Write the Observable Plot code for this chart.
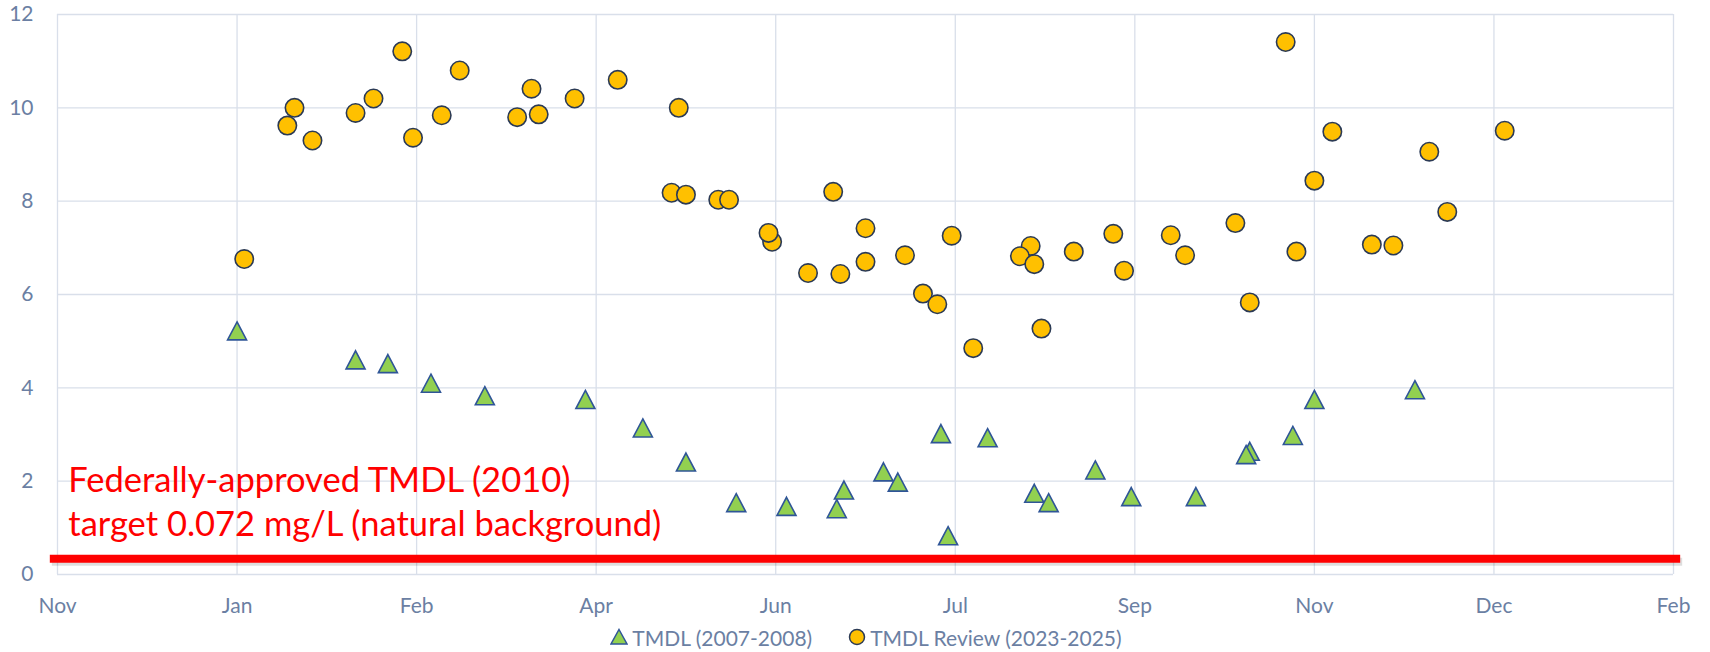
<!DOCTYPE html>
<html><head><meta charset="utf-8">
<script src="https://cdn.jsdelivr.net/npm/d3@7"></script>
<script src="https://cdn.jsdelivr.net/npm/@observablehq/plot@0.6"></script>
<style>
body{margin:0;background:#fff;font-family:Lato,sans-serif;}
#legend{display:flex;align-items:center;justify-content:center;height:30px;font-size:21px;color:#6b7fa3;padding-left:22px;}
#legend .item{display:flex;align-items:center;margin:0 18px;}
#legend svg{margin-right:4px;}
</style></head><body>
<div id="chart"></div>
<div id="legend"></div>
<script>
// x-axis ticks (50-day steps, as in the source) and their labels
const tickDates = ["1999-11-18","2000-01-07","2000-02-26","2000-04-16","2000-06-05","2000-07-25","2000-09-13","2000-11-02","2000-12-22","2001-02-10"];
const tickLabels = ["Nov","Jan","Feb","Apr","Jun","Jul","Sep","Nov","Dec","Feb"];
const yTicks = [0,2,4,6,8,10,12];

const seriesNames = ["TMDL (2007-2008)", "TMDL Review (2023-2025)"];

// TMDL (2007-2008)
const tmdlDates = ["01-07","02-09","02-18","03-01","03-16","04-13","04-29","05-11","05-25","06-08","06-22","06-24","07-05","07-09","07-21","07-23","08-03","08-16","08-20","09-02","09-12","09-30","10-15","10-14","10-27","11-02","11-30"];
const tmdlValues = [5.22,4.6,4.52,4.1,3.83,3.75,3.14,2.41,1.54,1.46,1.41,1.81,2.2,1.98,3.02,0.83,2.93,1.74,1.54,2.24,1.67,1.67,2.64,2.57,2.98,3.75,3.96];

// TMDL Review (2023-2025)
const reviewDates = ["01-09","01-21","01-23","01-28","02-09","02-14","02-22","02-25","03-04","03-09","03-25","03-29","03-31","04-10","04-22","05-07","05-09","05-11","05-20","05-23","06-04","06-03","06-14","06-21","06-23","06-30","06-30","07-11","07-16","07-20","07-24","07-30","08-15","08-12","08-16","08-18","08-27","09-07","09-10","09-23","09-27","10-11","10-15","10-25","10-28","11-02","11-07","11-18","11-24","12-04","12-09","12-25"];
const reviewValues = [6.76,9.62,10.0,9.30,9.89,10.2,11.21,9.36,9.84,10.8,9.80,10.41,9.86,10.2,10.6,8.18,10.0,8.14,8.03,8.03,7.13,7.32,6.46,8.2,6.44,7.42,6.70,6.84,6.02,5.79,7.26,4.85,7.04,6.82,6.65,5.27,6.92,7.3,6.51,7.27,6.84,7.53,5.83,11.41,6.92,8.44,9.49,7.07,7.05,9.06,7.77,9.51];

// annotation
const targetLevel = 0.34;
const targetSpan = ["1999-11-16","2001-02-12"];
const annotationAnchor = {date: "1999-11-21", value: 0.82};
const annotationLines = ["Federally-approved TMDL (2010)", "target 0.072 mg/L (natural background)"];

const parse = s => new Date(s);
const tmdl = tmdlDates.map((d,i) => ({date: parse("2000-" + d), value: tmdlValues[i]}));
const review = reviewDates.map((d,i) => ({date: parse("2000-" + d), value: reviewValues[i]}));
const ticks = tickDates.map(parse);

const triangle = {draw(ctx, size){ const r = Math.sqrt(size/Math.PI); ctx.moveTo(0,-r*0.95); ctx.lineTo(r, r*0.95); ctx.lineTo(-r, r*0.95); ctx.closePath(); }};

const gridColor = "#d9dfea";
const axisColor = "#6b7fa3";
const fmt = d => tickLabels[ticks.findIndex(t => +t === +d)];

const chart = Plot.plot({
  width: 1710,
  height: 622,
  marginTop: 14,
  marginBottom: 48,
  marginLeft: 57,
  marginRight: 37,
  style: {fontFamily: "Lato, sans-serif", fontSize: "21px", color: axisColor, background: "#fff"},
  x: {type: "utc", domain: [ticks[0], ticks[ticks.length-1]], ticks: ticks, tickFormat: fmt, tickSize: 0, tickPadding: 24, label: null},
  y: {domain: [0, 12], ticks: yTicks, tickSize: 0, tickPadding: 24, label: null},
  marks: [
    Plot.gridX(ticks, {stroke: gridColor, strokeOpacity: 1, strokeWidth: 1.3}),
    Plot.gridY(yTicks, {stroke: gridColor, strokeOpacity: 1, strokeWidth: 1.3}),
    Plot.axisX({ticks: ticks, tickFormat: fmt, tickSize: 0, tickPadding: 24, fill: axisColor, fontSize: 21}),
    Plot.axisY({ticks: yTicks, tickSize: 0, tickPadding: 24, fill: axisColor, fontSize: 21}),
    Plot.dot(tmdl, {x: "date", y: "value", symbol: triangle, r: 9.5, fill: "#92d050", stroke: "#2f5597", strokeWidth: 1.6}),
    Plot.dot(review, {x: "date", y: "value", r: 9.2, fill: "#ffc000", stroke: "#2b3a55", strokeWidth: 1.6}),
    Plot.ruleY([targetLevel], {x1: parse(targetSpan[0]), x2: parse(targetSpan[1]), stroke: "#000", strokeOpacity: 0.13, strokeWidth: 8, dy: 3, dx: 2}),
    Plot.ruleY([targetLevel], {x1: parse(targetSpan[0]), x2: parse(targetSpan[1]), stroke: "#ff0000", strokeWidth: 8}),
    Plot.text([annotationLines.join("\n")], {x: () => parse(annotationAnchor.date), y: () => annotationAnchor.value, text: d => d, textAnchor: "start", lineAnchor: "bottom", lineHeight: 1.28, fill: "#ff0000", fontSize: 34.5, fontFamily: "Lato, sans-serif"})
  ]
});
document.getElementById("chart").appendChild(chart);

const legend = document.getElementById("legend");
const symSvg = [
  '<svg width="18" height="18" viewBox="-9 -9 18 18"><path d="M0,-7.5L8,7L-8,7Z" fill="#92d050" stroke="#2f5597" stroke-width="1.5"/></svg>',
  '<svg width="18" height="18" viewBox="-9 -9 18 18"><circle r="7.5" fill="#ffc000" stroke="#2b3a55" stroke-width="1.5"/></svg>'
];
seriesNames.forEach((n,i) => {
  const el = document.createElement("div");
  el.className = "item";
  el.innerHTML = symSvg[i] + "<span>" + n + "</span>";
  legend.appendChild(el);
});
</script>
</body></html>
